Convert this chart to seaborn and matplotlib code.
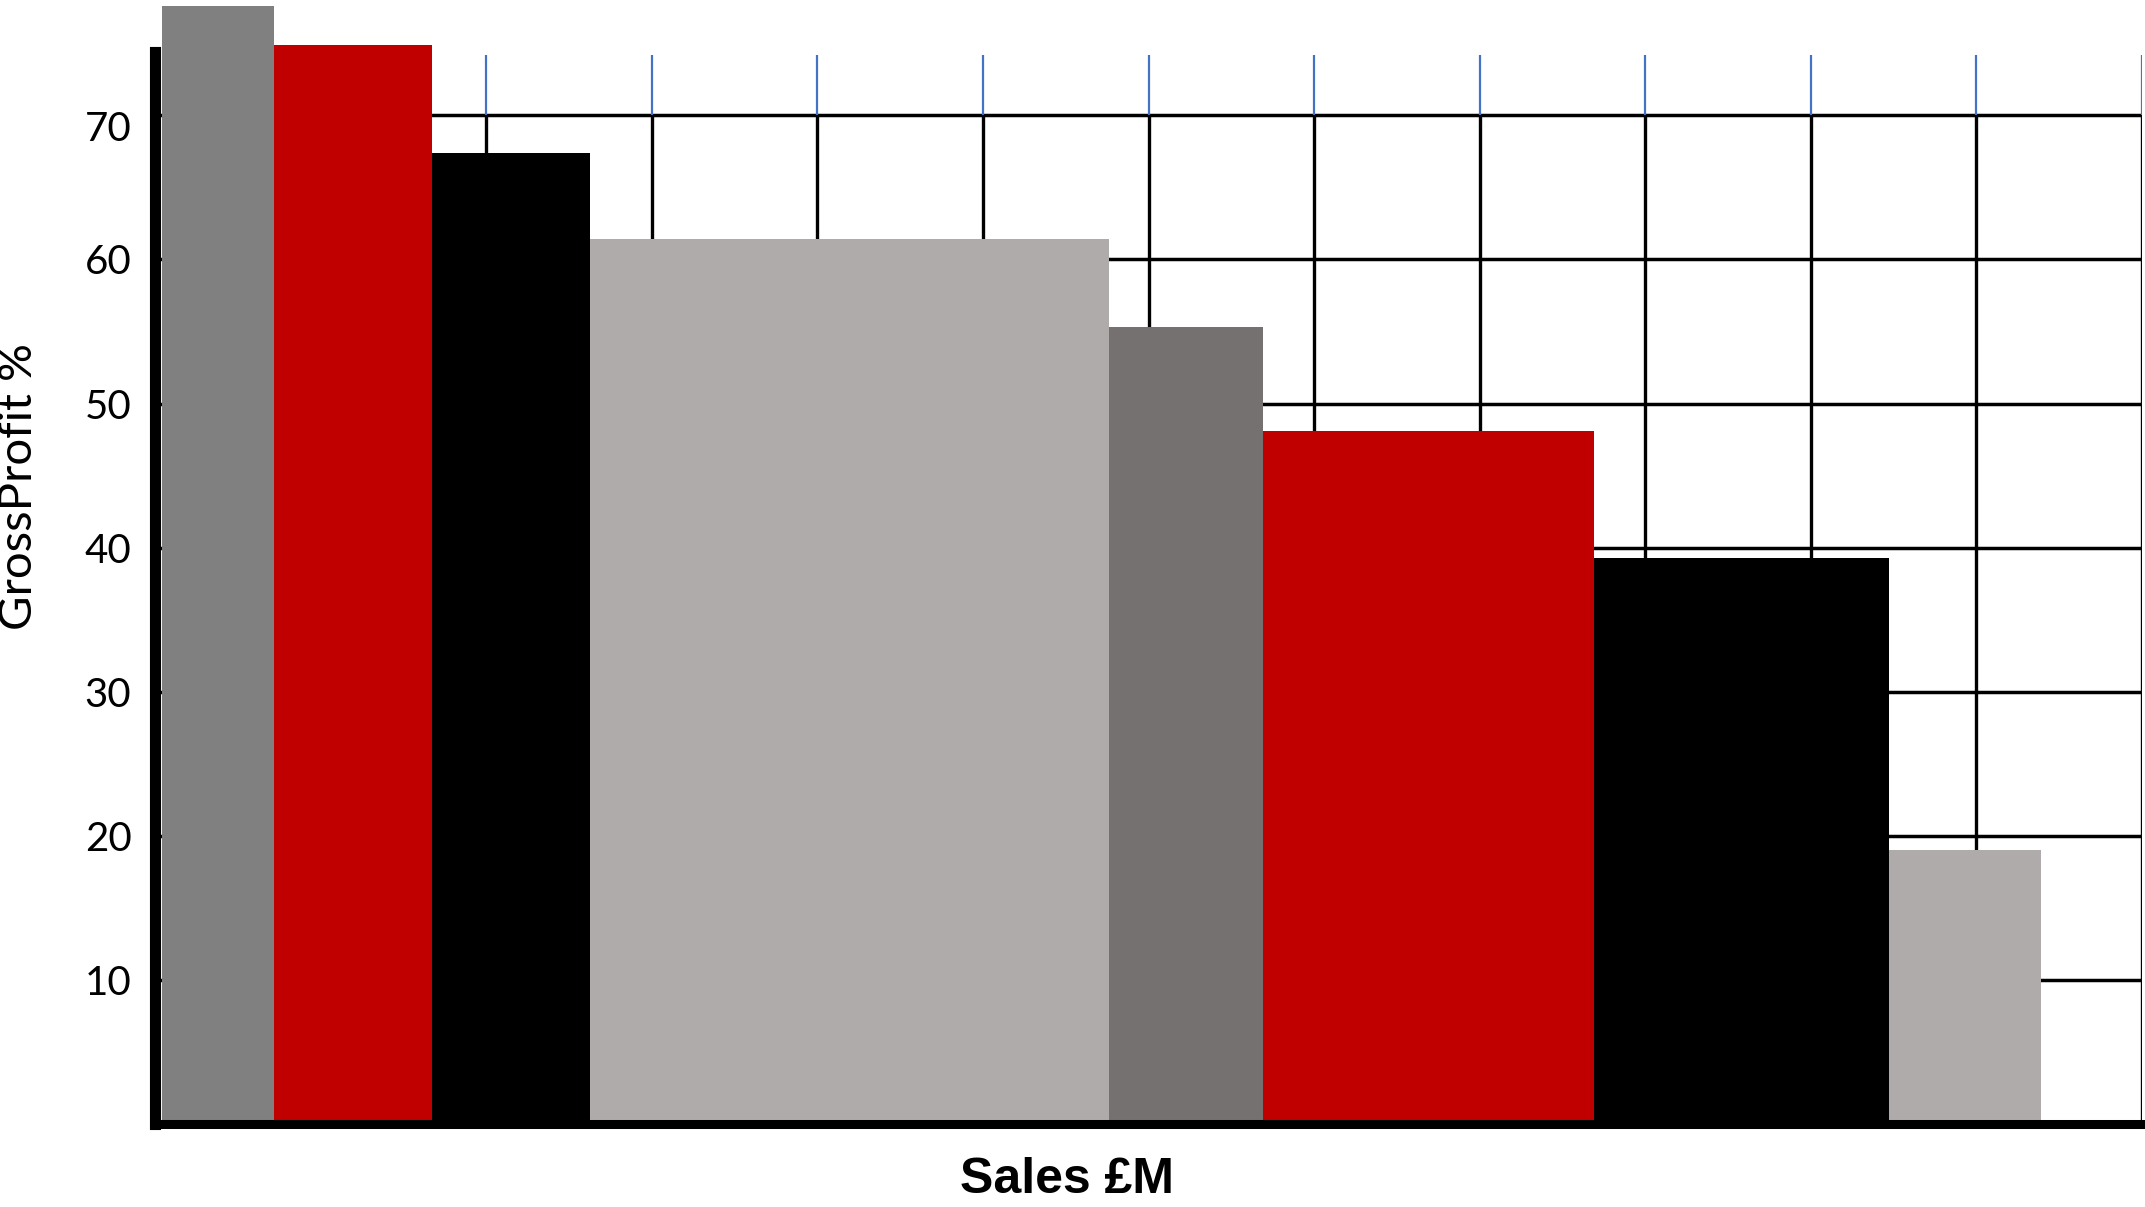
import numpy as np
import pandas as pd
import matplotlib
matplotlib.use("Agg")
import matplotlib.pyplot as plt
import matplotlib.transforms as mtransforms
import seaborn as sns

# ---- data ----
segments = ["A", "B", "C", "D", "E", "F", "G", "H"]
sales_width = [0.68, 0.95, 0.96, 3.13, 0.93, 2.00, 1.78, 0.92]   # bar widths (grid units)
gross_profit = [77.6, 74.9, 67.4, 61.4, 55.3, 48.1, 39.3, 19.0]  # GrossProfit %
bar_colors = ["#808080", "#C00000", "#000000", "#AFABAB",
              "#767171", "#C00000", "#000000", "#AFABAB"]
y_ticks = [10, 20, 30, 40, 50, 60, 70]
x_grid = list(range(1, 13))
x_start = 0.04

sns.set_style("white")
plt.rcParams["font.family"] = ["Lato", "DejaVu Sans"]

edges = x_start + np.concatenate([[0], np.cumsum(sales_width)])
df = pd.DataFrame({
    "segment": segments,
    "left": edges[:-1],
    "right": edges[1:],
    "gp": gross_profit,
})
df["mid"] = (df["left"] + df["right"]) / 2

fig = plt.figure(figsize=(21.45, 12.07), dpi=100)
ax = fig.add_axes([155 / 2145, 1 - 1124 / 1207, (2142 - 155) / 2145, (1124 - 52) / 1207])

# grid (drawn under the bars)
for yv in y_ticks:
    ax.axhline(yv, color="black", lw=2.5, zorder=0.5)
ax.vlines(x_grid, 0, 70, color="black", lw=2.4, zorder=0.5)
ax.vlines(x_grid, 70, 74.2, color="#4472C4", lw=1.6, zorder=0.5)

# variable-width bars
for _, r in df.iterrows():
    sns.histplot(x=[r["mid"]], weights=[r["gp"]], bins=[r["left"], r["right"]],
                 color=bar_colors[segments.index(r["segment"])], alpha=1,
                 linewidth=0, ax=ax, zorder=2)
for p in ax.patches:
    p.set_clip_on(False)

ax.set_xlim(0, 12)
ax.set_ylim(0, 74.4)
ax.set_xticks([])
ax.set_yticks(y_ticks)
ax.set_yticklabels([str(v) for v in y_ticks])
ax.tick_params(axis="y", length=0, pad=17, labelsize=29, colors="black")
# the top label sits a little below its gridline in the reference
top_lbl = ax.get_yticklabels()[-1]
top_lbl.set_transform(top_lbl.get_transform() +
                      mtransforms.ScaledTranslation(0, -11 / 100, fig.dpi_scale_trans))

for s in ["top", "right"]:
    ax.spines[s].set_visible(False)
ax.spines["left"].set_linewidth(8)
ax.spines["left"].set_color("black")
ax.spines["bottom"].set_linewidth(6.5)
ax.spines["bottom"].set_color("black")
ax.spines["left"].set_zorder(3)
ax.spines["bottom"].set_zorder(3)

ax.set_ylabel("")
fig.text(19 / 2145, 1 - 486 / 1207, "GrossProfit %", rotation=90,
         ha="center", va="center", fontsize=34, color="black")
ax.set_xlabel("Sales £M", fontsize=36, fontweight="bold", color="black",
              family=["Liberation Sans", "DejaVu Sans"])
ax.xaxis.set_label_coords(0.459, -0.031)

fig.savefig("out.png", dpi=100, facecolor="white")
